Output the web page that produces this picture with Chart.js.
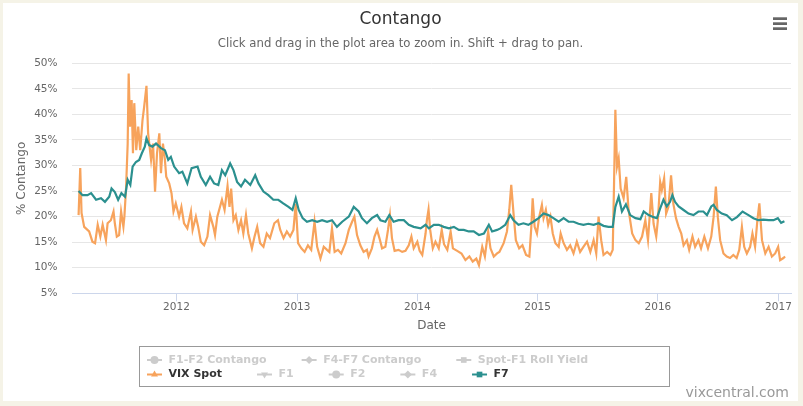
<!DOCTYPE html>
<html>
<head>
<meta charset="utf-8">
<title>Contango</title>
<script src="https://cdn.jsdelivr.net/npm/chart.js@4.4.0/dist/chart.umd.min.js"></script>
<style>
  html, body { margin: 0; padding: 0; background: #f5f3e7; }
  #wrap { position: relative; width: 803px; height: 406px; }
</style>
</head>
<body>
<div id="wrap"><canvas id="contangoChart"></canvas></div>
<script>
// Series shown in the legend (only VIX Spot and F7 are switched on)
const seriesNames = ['F1-F2 Contango', 'F4-F7 Contango', 'Spot-F1 Roll Yield', 'VIX Spot', 'F1', 'F2', 'F4', 'F7'];
const visibleSeries = ['VIX Spot', 'F7'];
const yearTicks = [2012, 2013, 2014, 2015, 2016, 2017];

// VIX Spot, % contango
const vixDates = [
  '2011-03-10','2011-03-15','2011-03-19','2011-03-27','2011-04-11','2011-04-21','2011-04-29','2011-05-07','2011-05-15','2011-05-22',
  '2011-06-01','2011-06-06','2011-06-16','2011-06-24','2011-06-28','2011-07-04','2011-07-11','2011-07-17','2011-07-24','2011-07-27',
  '2011-08-01','2011-08-06','2011-08-09','2011-08-13','2011-08-18','2011-08-22','2011-08-26','2011-09-01','2011-09-07','2011-09-13',
  '2011-09-20','2011-09-25','2011-10-02','2011-10-07','2011-10-16','2011-10-22','2011-10-28','2011-11-03','2011-11-10','2011-11-15',
  '2011-11-21','2011-11-27','2011-12-01','2011-12-10','2011-12-17','2011-12-23','2011-12-30',
  '2012-01-09','2012-01-16','2012-01-24','2012-02-03','2012-02-14','2012-02-19','2012-02-29','2012-03-07','2012-03-15','2012-03-25',
  '2012-04-04','2012-04-12','2012-04-22','2012-04-27','2012-05-04','2012-05-18','2012-05-26','2012-06-04','2012-06-10','2012-06-15',
  '2012-06-22','2012-06-29','2012-07-07','2012-07-15','2012-07-22','2012-07-30','2012-08-06','2012-08-17','2012-08-25','2012-09-02',
  '2012-09-11','2012-09-21','2012-10-01','2012-10-11','2012-10-24','2012-11-04','2012-11-11','2012-11-21','2012-12-01','2012-12-11',
  '2012-12-21','2012-12-28',
  '2013-01-04','2013-01-14','2013-01-24','2013-02-03','2013-02-13','2013-02-23','2013-03-03','2013-03-13','2013-03-23','2013-04-02',
  '2013-04-09','2013-04-17','2013-04-25','2013-05-05','2013-05-15','2013-05-28','2013-06-07','2013-06-17','2013-06-24','2013-07-02',
  '2013-07-12','2013-07-22','2013-08-01','2013-08-06','2013-08-16','2013-08-24','2013-09-01','2013-09-08','2013-09-16','2013-09-26',
  '2013-10-04','2013-10-10','2013-10-16','2013-10-24','2013-11-05','2013-11-16','2013-11-26','2013-12-06','2013-12-14','2013-12-21',
  '2014-01-01','2014-01-08','2014-01-16','2014-01-26','2014-01-30','2014-02-04','2014-02-09','2014-02-17','2014-02-25','2014-03-07',
  '2014-03-16','2014-03-23','2014-04-02','2014-04-12','2014-04-19','2014-05-02','2014-05-15','2014-05-27','2014-06-08','2014-06-18',
  '2014-06-29','2014-07-07','2014-07-17','2014-07-25','2014-08-04','2014-08-11','2014-08-21','2014-08-31','2014-09-07','2014-09-20',
  '2014-09-30','2014-10-07','2014-10-13','2014-10-20','2014-10-27','2014-11-06','2014-11-16','2014-11-27','2014-12-07','2014-12-13',
  '2014-12-17','2014-12-23','2014-12-30',
  '2015-01-06','2015-01-14','2015-01-19','2015-01-26','2015-02-02','2015-02-09','2015-02-16','2015-02-24','2015-03-06','2015-03-12',
  '2015-03-21','2015-03-31','2015-04-10','2015-04-20','2015-04-30','2015-05-10','2015-05-20','2015-05-31','2015-06-10','2015-06-20',
  '2015-06-28','2015-07-05','2015-07-13','2015-07-20','2015-07-31','2015-08-10','2015-08-17','2015-08-21','2015-08-25','2015-08-30',
  '2015-09-04','2015-09-10','2015-09-19','2015-09-27','2015-10-04','2015-10-15','2015-10-25','2015-11-04','2015-11-14','2015-11-24',
  '2015-12-02','2015-12-12','2015-12-19','2015-12-27',
  '2016-01-01','2016-01-08','2016-01-13','2016-01-20','2016-01-26','2016-02-02','2016-02-10','2016-02-17','2016-02-25','2016-03-04',
  '2016-03-12','2016-03-19','2016-03-29','2016-04-05','2016-04-15','2016-04-23','2016-05-03','2016-05-11','2016-05-21','2016-06-01',
  '2016-06-11','2016-06-18','2016-06-25','2016-07-01','2016-07-08','2016-07-18','2016-07-28','2016-08-07','2016-08-17','2016-08-27',
  '2016-09-04','2016-09-12','2016-09-19','2016-09-27','2016-10-07','2016-10-14','2016-10-22','2016-10-29','2016-11-04','2016-11-12',
  '2016-11-22','2016-12-02','2016-12-12','2016-12-22','2016-12-31','2017-01-06','2017-01-16','2017-01-21'
];
const vixValues = [
  20.3, 29.5, 20.7, 18.0, 17.1, 15.1, 14.8, 18.4, 16.1, 18.4,
  15.4, 18.7, 19.3, 21.0, 18.7, 16.1, 16.4, 21.0, 18.0, 20.0,
  25.5, 34.3, 48.0, 37.6, 42.8, 32.4, 42.2, 33.0, 37.6, 33.0,
  38.9, 41.5, 45.6, 36.3, 31.1, 34.3, 24.9, 32.4, 36.3, 28.5,
  34.3, 31.1, 27.8, 26.5, 24.6, 21.0, 22.6,
  20.0, 21.9, 18.7, 17.7, 21.0, 17.4, 20.0, 18.0, 15.1, 14.4,
  16.1, 20.3, 18.0, 16.4, 20.0, 23.3, 21.3, 26.0, 21.9, 25.5,
  19.3, 20.3, 17.4, 19.3, 16.7, 20.3, 16.7, 13.8, 16.1, 18.0,
  14.8, 14.1, 16.7, 15.8, 18.7, 19.3, 17.4, 15.8, 17.1, 16.1,
  17.4, 22.5,
  14.8, 13.8, 13.1, 14.4, 13.5, 19.0, 14.1, 11.8, 14.1, 13.5,
  13.1, 17.7, 13.1, 13.5, 12.8, 14.8, 17.4, 19.0, 20.0, 16.4,
  14.4, 13.1, 13.5, 12.2, 13.8, 16.1, 17.4, 15.8, 13.8, 14.1,
  17.4, 20.3, 15.8, 13.3, 13.5, 13.1, 13.3, 14.4, 16.1, 13.8,
  15.1, 13.3, 12.5, 16.7, 19.3, 21.4, 17.4, 13.8, 15.1, 13.8,
  17.4, 14.6, 13.5, 17.1, 13.8, 13.3, 12.8, 11.5, 12.2, 11.2,
  11.8, 10.5, 14.1, 12.2, 17.1, 13.8, 12.2, 12.8, 13.1, 14.8,
  17.1, 21.3, 26.2, 20.6, 15.4, 13.8, 14.4, 12.5, 12.2, 18.0,
  23.6, 18.0, 16.7,
  20.0, 22.3, 19.7, 21.3, 18.4, 20.0, 16.7, 14.8, 14.1, 16.7,
  14.8, 13.5, 14.4, 12.8, 15.1, 13.1, 14.1, 15.1, 13.1, 15.4,
  12.8, 20.0, 15.4, 12.5, 13.1, 12.5, 13.5, 26.5, 40.9, 29.8,
  31.4, 25.5, 23.6, 27.8, 21.3, 16.7, 15.4, 14.8, 16.1, 19.3,
  15.4, 24.6, 18.6, 16.1,
  19.3, 26.8, 25.2, 27.5, 20.6, 21.9, 28.1, 22.5, 19.7, 18.0,
  16.7, 14.4, 15.4, 13.5, 16.1, 14.1, 15.4, 13.8, 16.1, 13.8,
  16.1, 19.9, 25.9, 19.9, 15.4, 12.8, 12.2, 11.9, 12.5, 11.9,
  13.5, 18.0, 14.1, 12.8, 14.1, 16.7, 14.1, 19.3, 22.6, 15.4,
  12.8, 14.1, 12.2, 12.8, 14.1, 11.5, 11.9, 12.2
];

// F7, % contango
const f7Dates = [
  '2011-03-10','2011-03-22','2011-04-06','2011-04-17','2011-05-02','2011-05-17','2011-05-29','2011-06-11','2011-06-18','2011-06-28',
  '2011-07-08','2011-07-18','2011-07-29','2011-08-06','2011-08-14','2011-08-21','2011-08-31','2011-09-10','2011-09-18','2011-09-27',
  '2011-10-02','2011-10-10','2011-10-20','2011-10-31','2011-11-15','2011-11-27','2011-12-07','2011-12-15','2011-12-25',
  '2012-01-09','2012-01-19','2012-02-03','2012-02-16','2012-03-05','2012-03-15','2012-03-30','2012-04-12','2012-04-24','2012-05-07',
  '2012-05-18','2012-05-28','2012-06-12','2012-06-22','2012-07-03','2012-07-15','2012-07-27','2012-08-12','2012-08-27','2012-09-06',
  '2012-09-21','2012-10-06','2012-10-21','2012-11-05','2012-11-20','2012-12-06','2012-12-18','2012-12-28',
  '2013-01-06','2013-01-18','2013-01-31','2013-02-16','2013-03-03','2013-03-18','2013-04-02','2013-04-17','2013-05-02','2013-05-18',
  '2013-06-07','2013-06-22','2013-07-07','2013-07-17','2013-08-01','2013-08-16','2013-09-01','2013-09-11','2013-09-26','2013-10-08',
  '2013-10-21','2013-11-05','2013-11-21','2013-12-06','2013-12-21',
  '2014-01-11','2014-01-26','2014-02-05','2014-02-20','2014-03-07','2014-03-22','2014-04-07','2014-04-22','2014-05-07','2014-05-22',
  '2014-06-06','2014-06-21','2014-07-07','2014-07-22','2014-08-06','2014-08-16','2014-08-31','2014-09-10','2014-09-25','2014-10-10',
  '2014-10-20','2014-11-04','2014-11-19','2014-12-04','2014-12-19',
  '2015-01-04','2015-01-19','2015-02-03','2015-02-18','2015-03-06','2015-03-21','2015-04-05','2015-04-20','2015-05-05','2015-05-20',
  '2015-06-04','2015-06-20','2015-07-05','2015-07-20','2015-08-04','2015-08-17','2015-08-25','2015-09-04','2015-09-14','2015-09-26',
  '2015-10-09','2015-10-25','2015-11-09','2015-11-19','2015-12-04','2015-12-19','2015-12-29',
  '2016-01-08','2016-01-18','2016-01-28','2016-02-07','2016-02-14','2016-02-22','2016-03-04','2016-03-19','2016-04-03','2016-04-18',
  '2016-05-03','2016-05-18','2016-05-29','2016-06-11','2016-06-18','2016-06-28','2016-07-13','2016-07-28','2016-08-13','2016-08-28',
  '2016-09-14','2016-10-02','2016-10-17','2016-11-01','2016-11-16','2016-12-02','2016-12-17','2016-12-30','2017-01-09','2017-01-19'
];
const f7Values = [
  25.0, 24.2, 24.2, 24.6, 23.3, 23.6, 22.9, 23.9, 25.5, 24.8,
  23.3, 24.6, 23.9, 27.2, 26.2, 29.8, 30.7, 31.1, 32.4, 33.7,
  35.3, 34.0, 33.7, 34.3, 33.4, 33.0, 31.1, 31.7, 29.8,
  28.5, 28.8, 26.5, 29.5, 29.8, 27.8, 26.2, 27.8, 26.5, 26.2,
  29.1, 28.1, 30.4, 29.1, 26.8, 25.9, 27.2, 26.2, 28.1, 26.5,
  24.9, 24.2, 23.3, 23.3, 22.6, 21.9, 21.3, 23.6,
  21.3, 19.7, 19.0, 19.3, 19.0, 19.3, 19.0, 19.3, 18.0, 19.0,
  20.0, 21.9, 21.0, 19.7, 18.7, 19.7, 20.3, 19.3, 19.0, 20.3,
  19.0, 19.3, 19.3, 18.4, 18.0,
  17.7, 18.4, 17.7, 18.4, 18.4, 18.0, 17.7, 18.0, 17.4, 17.4,
  17.1, 17.1, 16.4, 16.7, 18.4, 17.1, 17.4, 17.7, 18.4, 20.3,
  19.3, 18.4, 18.7, 18.4, 19.0,
  19.7, 20.6, 20.3, 19.7, 19.0, 19.7, 19.0, 19.0, 18.6, 18.4,
  18.6, 18.4, 18.7, 18.2, 18.0, 18.0, 21.9, 23.9, 21.0, 22.4,
  20.3, 19.7, 19.5, 21.0, 20.3, 19.9, 19.7,
  21.6, 23.3, 22.0, 22.9, 24.2, 22.9, 22.0, 21.3, 20.6, 20.3,
  21.0, 21.0, 20.3, 22.0, 22.3, 21.3, 20.6, 20.3, 19.3, 19.9,
  21.0, 20.3, 19.7, 19.3, 19.4, 19.3, 19.3, 19.7, 18.8, 19.1
];

const FONT = '"DejaVu Sans", sans-serif';
Chart.defaults.font.family = FONT;

function toTime(s) {
  const p = s.split('-');
  return Date.UTC(+p[0], +p[1] - 1, +p[2]);
}

function toPoints(dates, values) {
  return dates.map((d, i) => ({ x: toTime(d), y: values[i] }));
}

// Highcharts default palette and marker order, index by series
const palette = ['#7cb5ec', '#434348', '#90ed7d', '#f7a35c', '#8085e9', '#f15c80', '#e4d354', '#2b908f'];
const markers = [
  { style: 'circle', rot: 0 }, { style: 'rectRot', rot: 0 }, { style: 'rect', rot: 0 },
  { style: 'triangle', rot: 0 }, { style: 'triangle', rot: 180 },
  { style: 'circle', rot: 0 }, { style: 'rectRot', rot: 0 }, { style: 'rect', rot: 0 }
];
const seriesData = { 'VIX Spot': toPoints(vixDates, vixValues), 'F7': toPoints(f7Dates, f7Values) };

const datasets = seriesNames.map((name, i) => ({
  label: name,
  data: seriesData[name] || [],
  hidden: !visibleSeries.includes(name),
  borderColor: palette[i],
  backgroundColor: palette[i],
  borderWidth: 2.2,
  pointRadius: 0,
  tension: 0,
  fill: false,
  pointStyle: markers[i].style,
  rotation: markers[i].rot,
  order: name === 'F7' ? 0 : 1
}));

// page frame, title, menu button, legend and credits
const decorations = {
  id: 'decorations',
  beforeDraw(chart) {
    const ctx = chart.ctx;
    ctx.save();
    ctx.fillStyle = '#f5f3e7';
    ctx.fillRect(0, 0, chart.width, chart.height);
    ctx.fillStyle = '#ffffff';
    ctx.fillRect(3, 3, 795, 398);
    ctx.restore();
  },
  afterDraw(chart) {
    const ctx = chart.ctx;
    ctx.save();
    ctx.textAlign = 'center';
    ctx.textBaseline = 'alphabetic';
    ctx.fillStyle = '#333333';
    ctx.font = '17px ' + FONT;
    ctx.fillText('Contango', 400.5, 24);
    ctx.fillStyle = '#666666';
    ctx.font = '11.7px ' + FONT;
    ctx.fillText('Click and drag in the plot area to zoom in. Shift + drag to pan.', 400.5, 46.5);

    // menu button
    ctx.fillStyle = '#666666';
    [17.3, 22.3, 27.3].forEach(y => ctx.fillRect(773, y, 14, 2.7));

    // legend
    const box = { left: 139.5, top: 346.5, right: 669.5, bottom: 386.5 };
    ctx.strokeStyle = '#999999';
    ctx.lineWidth = 1;
    ctx.strokeRect(box.left, box.top, box.right - box.left, box.bottom - box.top);
    ctx.font = 'bold 11px ' + FONT;
    ctx.textAlign = 'left';
    ctx.textBaseline = 'middle';
    let x = 147, y = 360;
    chart.data.datasets.forEach(ds => {
      const tw = ctx.measureText(ds.label).width;
      const w = 21.5 + tw;
      if (x + w > box.right - 8) { x = 147; y += 14.5; }
      const col = ds.hidden ? '#cccccc' : ds.borderColor;
      ctx.strokeStyle = col;
      ctx.lineWidth = 2;
      ctx.beginPath();
      ctx.moveTo(x, y);
      ctx.lineTo(x + 15, y);
      ctx.stroke();
      ctx.fillStyle = col;
      Chart.helpers.drawPoint(ctx, { pointStyle: ds.pointStyle, rotation: ds.rotation, radius: 4, borderWidth: 0 }, x + 7.5, y);
      ctx.fillStyle = ds.hidden ? '#cccccc' : '#333333';
      ctx.fillText(ds.label, x + 21.5, y);
      x += w + 35;
    });

    // credits
    ctx.textAlign = 'right';
    ctx.textBaseline = 'alphabetic';
    ctx.fillStyle = '#999999';
    ctx.font = '14px ' + FONT;
    ctx.fillText('vixcentral.com', 789, 397);
    ctx.restore();
  }
};

new Chart(document.getElementById('contangoChart'), {
  type: 'line',
  data: { datasets: datasets },
  options: {
    responsive: true,
    maintainAspectRatio: false,
    animation: false,
    events: [],
    layout: { padding: { top: 63.3, left: 0, right: 12, bottom: 70.7 } },
    plugins: {
      legend: { display: false },
      title: { display: false },
      tooltip: { enabled: false }
    },
    scales: {
      x: {
        type: 'linear',
        min: toTime('2011-02-18'),
        max: toTime('2017-02-08'),
        afterBuildTicks: scale => {
          scale.ticks = yearTicks.map(y => ({ value: Date.UTC(y, 0, 1) }));
        },
        afterFit: scale => { scale.height = 42; },
        ticks: {
          autoSkip: false,
          maxRotation: 0,
          padding: 0,
          color: '#666666',
          font: { size: 10.5 },
          callback: v => new Date(v).getUTCFullYear()
        },
        grid: { drawOnChartArea: false, drawTicks: true, tickLength: 8, tickColor: '#ccd6eb', color: '#ccd6eb' },
        border: { display: true, color: '#ccd6eb', width: 1 },
        title: { display: true, text: 'Date', color: '#666666', font: { size: 12 }, padding: { top: 0, bottom: 2 } }
      },
      y: {
        min: 5,
        max: 50,
        afterFit: scale => { scale.width = 72; },
        ticks: {
          stepSize: 5,
          padding: 14.5,
          color: '#666666',
          font: { size: 10.5 },
          callback: v => v + '%'
        },
        grid: { color: '#e6e6e6', drawTicks: false, lineWidth: 1 },
        border: { display: false },
        title: { display: true, text: '% Contango', color: '#666666', font: { size: 12 }, padding: { top: 15, bottom: 0 } }
      }
    }
  },
  plugins: [decorations]
});
</script>
</body>
</html>
